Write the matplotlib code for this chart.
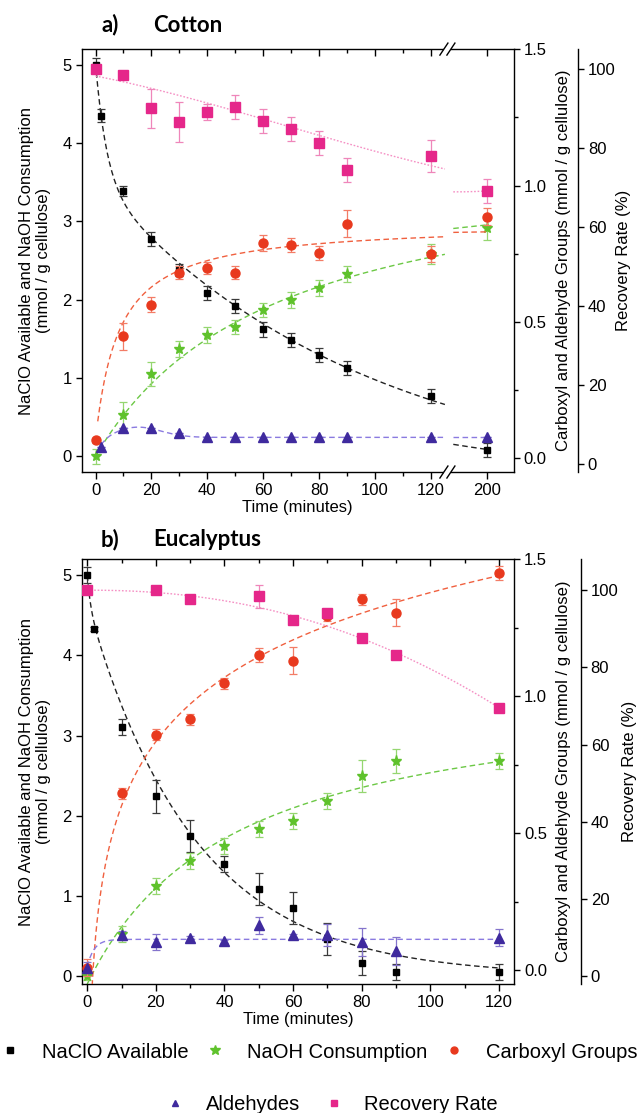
import numpy as np
import matplotlib.pyplot as plt
from matplotlib.lines import Line2D
from matplotlib.patches import Rectangle
from matplotlib.transforms import blended_transform_factory

plt.rcParams['font.family'] = ['Liberation Sans', 'DejaVu Sans']

# ---------------- a) Cotton ----------------
cot_t_clo = [0, 2, 10, 20, 30, 40, 50, 60, 70, 80, 90, 120, 200]
cot_clo = [5.0, 4.35, 3.39, 2.78, 2.38, 2.09, 1.92, 1.62, 1.49, 1.29, 1.13, 0.77, 0.08]
cot_clo_err = [0.08, 0.08, 0.06, 0.09, 0.08, 0.09, 0.09, 0.09, 0.09, 0.09, 0.09, 0.09, 0.09]

cot_t = [0, 10, 20, 30, 40, 50, 60, 70, 80, 90, 120, 200]
cot_naoh = [0.0, 0.53, 1.05, 1.37, 1.55, 1.65, 1.87, 2.0, 2.15, 2.33, 2.58, 2.91]
cot_naoh_err = [0.1, 0.17, 0.15, 0.1, 0.1, 0.09, 0.09, 0.1, 0.1, 0.1, 0.13, 0.15]
cot_cooh = [0.066, 0.447, 0.563, 0.681, 0.698, 0.681, 0.789, 0.783, 0.752, 0.860, 0.750, 0.886]
cot_cooh_err = [0.01, 0.05, 0.027, 0.025, 0.022, 0.025, 0.03, 0.025, 0.025, 0.05, 0.03, 0.03]
cot_rec = [100.0, 98.4, 90.0, 86.6, 89.0, 90.4, 86.8, 84.7, 81.2, 74.4, 77.9, 69.1]
cot_rec_err = [0.5, 0.5, 5, 5, 2, 3, 3, 3, 3, 3, 4, 3]

cot_t_cho = [2, 10, 20, 30, 40, 50, 60, 70, 80, 90, 120, 200]
cot_cho = [0.041, 0.111, 0.112, 0.093, 0.079, 0.077, 0.077, 0.077, 0.077, 0.077, 0.077, 0.077]
cot_cho_err = [0] * 12

# ---------------- b) Eucalyptus ----------------
euc_t_clo = [0, 2, 10, 20, 30, 40, 50, 60, 70, 80, 90, 120]
euc_clo = [5.0, 4.33, 3.11, 2.24, 1.75, 1.40, 1.09, 0.85, 0.46, 0.16, 0.05, 0.05]
euc_clo_err = [0.1, 0.03, 0.1, 0.2, 0.2, 0.1, 0.2, 0.2, 0.2, 0.15, 0.1, 0.1]

euc_t = [0, 10, 20, 30, 40, 50, 60, 70, 80, 90, 120]
euc_naoh = [0.0, 0.525, 1.125, 1.43, 1.62, 1.83, 1.93, 2.18, 2.49, 2.68, 2.68]
euc_naoh_err = [0.05, 0.1, 0.1, 0.1, 0.1, 0.1, 0.1, 0.1, 0.2, 0.15, 0.1]
euc_cooh = [0.01, 0.646, 0.86, 0.917, 1.048, 1.15, 1.13, 1.293, 1.354, 1.305, 1.451]
euc_cooh_err = [0.03, 0.02, 0.02, 0.02, 0.02, 0.025, 0.049, 0.02, 0.02, 0.05, 0.025]
euc_cho = [0.01, 0.1275, 0.103, 0.119, 0.106, 0.164, 0.1275, 0.1275, 0.103, 0.07, 0.119]
euc_cho_err = [0.02, 0.017, 0.03, 0.005, 0.005, 0.03, 0.005, 0.04, 0.05, 0.05, 0.03]

euc_t_rec = [0, 20, 30, 50, 60, 70, 80, 90, 120]
euc_rec = [100.0, 100.0, 97.7, 98.4, 92.2, 94.0, 87.5, 83.3, 69.6]
euc_rec_err = [0.5, 0.5, 0.5, 3, 0.5, 0.5, 0.5, 0.5, 0.5]

labels = ['NaClO Available', 'NaOH Consumption', 'Carboxyl Groups', 'Aldehydes', 'Recovery Rate']


# fitted curves (parameters estimated from the published fit lines)
def cot_fit_clo(t):
    return 1.5 * np.exp(-0.25 * t) + 3.91 * np.exp(-0.0105 * t) - 0.39

def cot_fit_naoh(t):
    return 3.9 * t / (64 + t)

def cot_fit_cooh(t):
    return 0.066 + 0.796 * t / (8.33 + t)

def cot_fit_cho(t):
    return 0.077 * (1 - np.exp(-t / 3)) + 0.038 * np.exp(-((t - 15) / 12) ** 2)

def cot_fit_rec(t):
    s = t / 60
    return 98.2 - 8.38 * s - 3.555 * s ** 2 + 1.035 * s ** 3

def euc_fit_clo(t):
    return 4.65 * np.exp(-0.032 * t) + 0.35 * np.exp(-t)

def euc_fit_naoh(t):
    return 3.77 * t / (43 + t) - 0.1

def euc_fit_cooh(t):
    return -0.178 + 0.338 * np.log(t)

def euc_fit_cho(t):
    return 0.113 - 0.1 * np.exp(-t / 2)

def euc_fit_rec(t):
    return 100 - 8.5e-4 * t ** 2.19


# colours
C_BLK, E_BLK, F_BLK = '#000000', '#3a3a3a', '#222222'
C_GRN, E_GRN, F_GRN = '#5fc22c', '#95d670', '#6cc845'
C_RED, E_RED, F_RED = '#e8391e', '#f37c66', '#f0603f'
C_PUR, E_PUR, F_PUR = '#3f2a9e', '#8474cc', '#8a7ae0'
C_PNK, E_PNK, F_PNK = '#e5278a', '#ef86ba', '#f590c4'

DASH = (0, (4, 2.5))
DOT = (0, (1.2, 1.3))

# broken axis in panel a: 200 min is drawn at x = 140
BREAK_X = 125.9
def xmap_a(t):
    t = np.asarray(t, float)
    return np.where(t > 150, t - 60, t)

def xmap_b(t):
    return np.asarray(t, float)


fig = plt.figure(figsize=(6.44, 11.13), dpi=100)


def make_axes(rect, xlim, xmajor, xlabels, xminor, y3_pos, y3_label_x):
    ax = fig.add_axes(rect)
    ax2 = ax.twinx()
    ax3 = ax.twinx()
    for a in (ax2, ax3):
        for side in ('left', 'top', 'bottom'):
            a.spines[side].set_visible(False)
    ax.spines['right'].set_visible(False)
    ax3.spines['right'].set_position(('axes', y3_pos))
    for a in (ax, ax2, ax3):
        for s in a.spines.values():
            s.set_linewidth(1.0)

    ax.set_xlim(*xlim)
    ax.set_xticks(xmajor)
    ax.set_xticklabels(xlabels)
    ax.set_xticks(xminor, minor=True)
    ax.tick_params(axis='x', which='both', direction='out', labelsize=12, width=1, pad=3)
    ax.tick_params(axis='x', which='major', length=5)
    ax.tick_params(axis='x', which='minor', length=3)
    ax.set_xlabel('Time (minutes)', fontsize=12, labelpad=1)

    top = ax.secondary_xaxis('top')
    top.set_xticks(xmajor)
    top.set_xticks(xminor, minor=True)
    top.tick_params(which='both', direction='in', labeltop=False, width=1)
    top.tick_params(which='major', length=5)
    top.tick_params(which='minor', length=3)
    for s in top.spines.values():
        s.set_visible(False)

    ax.set_yticks([0, 1, 2, 3, 4, 5])
    ax.tick_params(axis='y', direction='out', length=4, width=1, labelsize=12, pad=3)
    ax.set_ylabel('NaClO Available and NaOH Consumption\n(mmol / g cellulose)', fontsize=12)
    ax.yaxis.set_label_coords(-0.07, 0.5)

    ax2.set_ylim(-0.05, 1.5)
    ax2.set_yticks([0.0, 0.5, 1.0, 1.5])
    ax2.set_yticklabels(['0.0', '0.5', '1.0', '1.5'])
    ax2.set_yticks([0.25, 0.75, 1.25], minor=True)
    ax2.tick_params(axis='y', which='both', direction='out', width=1, labelsize=12, pad=3)
    ax2.tick_params(axis='y', which='major', length=4)
    ax2.tick_params(axis='y', which='minor', length=3)
    ax2.set_ylabel('Carboxyl and Aldehyde Groups (mmol / g cellulose)', fontsize=12)
    ax2.yaxis.set_label_coords(1.097, 0.5)

    ax3.set_yticks([0, 20, 40, 60, 80, 100])
    ax3.tick_params(axis='y', direction='out', length=4, width=1, labelsize=12, pad=3)
    ax3.set_ylabel('Recovery Rate (%)', fontsize=12)
    ax3.yaxis.set_label_coords(y3_label_x, 0.5)
    return ax, ax2, ax3


def points(ax, t, y, err, marker, color, ecolor, ms, xmap):
    x = xmap(t)
    ax.errorbar(x, y, yerr=err, fmt='none', ecolor=ecolor, elinewidth=0.9,
                capsize=3, capthick=0.9, zorder=2)
    ax.plot(x, y, ls='none', marker=marker, color=color, mec=color, ms=ms, zorder=3)


def fitline(ax, f, spans, color, ls, xmap):
    for t0, t1 in spans:
        tt = np.linspace(t0, t1, 300)
        ax.plot(xmap(tt), f(tt), color=color, ls=ls, lw=1.0, zorder=1)


def draw_break(ax, x0, px):
    tr = blended_transform_factory(ax.transData, ax.transAxes)
    h = ax.get_position().height * fig.bbox.height
    dy = 1.0 / h
    for yb in (0, 1):
        ax.add_patch(Rectangle((x0 - 3.5 * px, yb - 3 * dy), 7 * px, 6 * dy,
                               transform=tr, facecolor='white', edgecolor='none',
                               clip_on=False, zorder=5))
        for xc in (x0 - 3.5 * px, x0 + 3.5 * px):
            ax.plot([xc - 4 * px, xc + 4 * px], [yb - 6 * dy, yb + 6 * dy],
                    color='black', lw=1.0, transform=tr, clip_on=False, zorder=6)


# ---------- panel a ----------
axa, axa2, axa3 = make_axes([0.1266, 0.5759, 0.671, 0.380], (-5, 149.6),
                            [0, 20, 40, 60, 80, 100, 120, 140],
                            ['0', '20', '40', '60', '80', '100', '120', '200'],
                            [10, 30, 50, 70, 90, 110], 1.149, 1.237)
axa.set_ylim(-0.2, 5.2)
axa3.set_ylim(-2, 105)

left, right = (0, 125), (188, 200)
fitline(axa, cot_fit_clo, [left, right], F_BLK, DASH, xmap_a)
fitline(axa, cot_fit_naoh, [(1.5, 125), right], F_GRN, DASH, xmap_a)
fitline(axa2, cot_fit_cooh, [(0.8, 125), right], F_RED, DASH, xmap_a)
fitline(axa2, cot_fit_cho, [(2, 125), right], F_PUR, DASH, xmap_a)
fitline(axa3, cot_fit_rec, [left, right], F_PNK, DOT, xmap_a)

points(axa, cot_t_clo, cot_clo, cot_clo_err, 's', C_BLK, E_BLK, 5, xmap_a)
points(axa, cot_t, cot_naoh, cot_naoh_err, '*', C_GRN, E_GRN, 8, xmap_a)
points(axa2, cot_t, cot_cooh, cot_cooh_err, 'o', C_RED, E_RED, 6.5, xmap_a)
points(axa2, cot_t_cho, cot_cho, cot_cho_err, '^', C_PUR, E_PUR, 6.5, xmap_a)
points(axa3, cot_t, cot_rec, cot_rec_err, 's', C_PNK, E_PNK, 6.5, xmap_a)

draw_break(axa, BREAK_X, 154.6 / 432.1)

# ---------- panel b ----------
axb, axb2, axb3 = make_axes([0.1266, 0.1159, 0.672, 0.3816], (-1.66, 124.5),
                            [0, 20, 40, 60, 80, 100, 120],
                            ['0', '20', '40', '60', '80', '100', '120'],
                            [10, 30, 50, 70, 90, 110], 1.154, 1.250)
axb.set_ylim(-0.1, 5.2)
axb3.set_ylim(-2, 108)

fitline(axb, euc_fit_clo, [(0, 120)], F_BLK, DASH, xmap_b)
fitline(axb, euc_fit_naoh, [(0, 120)], F_GRN, DASH, xmap_b)
fitline(axb2, euc_fit_cooh, [(1.3, 120)], F_RED, DASH, xmap_b)
fitline(axb2, euc_fit_cho, [(0, 120)], F_PUR, DASH, xmap_b)
fitline(axb3, euc_fit_rec, [(0, 120)], F_PNK, DOT, xmap_b)

points(axb, euc_t_clo, euc_clo, euc_clo_err, 's', C_BLK, E_BLK, 5, xmap_b)
points(axb, euc_t, euc_naoh, euc_naoh_err, '*', C_GRN, E_GRN, 8, xmap_b)
points(axb2, euc_t, euc_cooh, euc_cooh_err, 'o', C_RED, E_RED, 6.5, xmap_b)
points(axb2, euc_t, euc_cho, euc_cho_err, '^', C_PUR, E_PUR, 6.5, xmap_b)
points(axb3, euc_t_rec, euc_rec, euc_rec_err, 's', C_PNK, E_PNK, 6.5, xmap_b)

# ---------- titles ----------
title_font = dict(family=['Lato', 'DejaVu Sans'], fontweight='bold', fontsize=16, va='center')
fig.text(101 / 644, 1 - 25 / 1113, 'a)', **title_font)
fig.text(153 / 644, 1 - 25 / 1113, 'Cotton', **title_font)
fig.text(101 / 644, 1 - 540 / 1113, 'b)', **title_font)
fig.text(153 / 644, 1 - 540 / 1113, 'Eucalyptus', **title_font)

# ---------- legend ----------
handles = [
    Line2D([], [], ls='none', marker='s', color=C_BLK, ms=4.5),
    Line2D([], [], ls='none', marker='*', color=C_GRN, ms=7),
    Line2D([], [], ls='none', marker='o', color=C_RED, ms=5),
    Line2D([], [], ls='none', marker='^', color=C_PUR, ms=5),
    Line2D([], [], ls='none', marker='s', color=C_PNK, ms=4.5),
]
fig.legend(handles[:3], labels[:3], loc='center', bbox_to_anchor=(0.495, 1 - 1052 / 1113),
           ncol=3, frameon=False, fontsize=14.5, handlelength=1.0, handletextpad=1.1,
           columnspacing=0.8, borderpad=0, borderaxespad=0)
fig.legend(handles[3:], labels[3:], loc='center', bbox_to_anchor=(0.515, 1 - 1105 / 1113),
           ncol=2, frameon=False, fontsize=14.5, handlelength=1.0, handletextpad=1.0,
           columnspacing=1.2, borderpad=0, borderaxespad=0)

fig.savefig('out.png', dpi=100)
